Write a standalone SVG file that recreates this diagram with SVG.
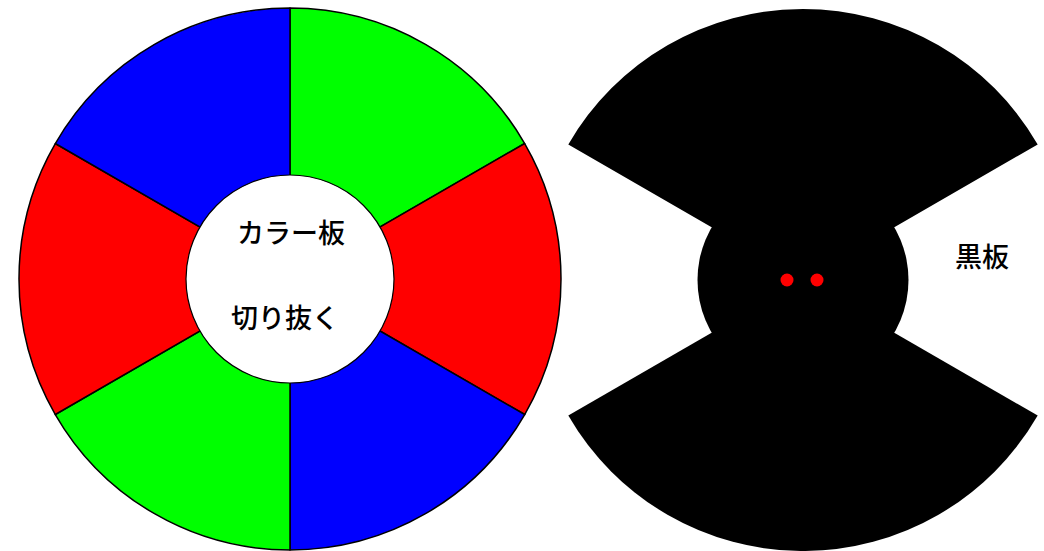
<svg xmlns="http://www.w3.org/2000/svg" width="1044" height="551" viewBox="0 0 1044 551">
<style>
.sec{stroke:#000;stroke-width:1.5;stroke-linejoin:round}
.g{fill:#00ff00}.r{fill:#ff0000}.b{fill:#0000ff}
.blk{fill:#000}
.t{font-family:"Noto Sans CJK JP","Noto Sans",sans-serif;font-size:27px;font-weight:500;fill:#000;text-anchor:middle}
</style>
<rect width="1044" height="551" fill="#fff"/>
<g id="color-board">
<path class="sec g" d="M290,279 L290,8 A271,271 0 0 1 524.7,143.5 Z"/>
<path class="sec r" d="M290,279 L524.7,143.5 A271,271 0 0 1 524.7,414.5 Z"/>
<path class="sec b" d="M290,279 L524.7,414.5 A271,271 0 0 1 290,550 Z"/>
<path class="sec g" d="M290,279 L290,550 A271,271 0 0 1 55.3,414.5 Z"/>
<path class="sec r" d="M290,279 L55.3,414.5 A271,271 0 0 1 55.3,143.5 Z"/>
<path class="sec b" d="M290,279 L55.3,143.5 A271,271 0 0 1 290,8 Z"/>
<circle cx="290" cy="279" r="104" fill="#fff" stroke="#000" stroke-width="1.2"/>
<text class="t" x="291" y="243">カラー板</text>
<text class="t" x="285" y="328">切り抜く</text>
</g>
<g id="black-board">
<path class="blk" d="M803,280 L568.3,144.5 A271,271 0 0 1 1037.7,144.5 Z"/>
<path class="blk" d="M803,280 L1037.7,415.5 A271,271 0 0 1 568.3,415.5 Z"/>
<circle class="blk" cx="803" cy="280" r="105.5"/>
<circle cx="787" cy="280" r="6.5" fill="#ff0000"/>
<circle cx="817" cy="280" r="6.5" fill="#ff0000"/>
<text class="t" x="982" y="267">黒板</text>
</g>
<g id="connectors"/>
</svg>
